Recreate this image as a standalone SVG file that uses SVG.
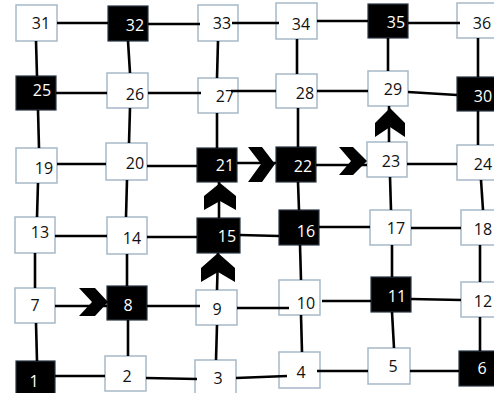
<svg xmlns="http://www.w3.org/2000/svg" width="494" height="393" viewBox="0 0 494 393">
<style>
.w{fill:#ffffff;stroke:#a7b9c8;stroke-width:1.5}
.b{fill:#000000;stroke:#2a3440;stroke-width:1.2}
text{font-family:"Open Sans","Liberation Sans",sans-serif;font-size:16px;text-anchor:middle;dominant-baseline:central}
.tw{fill:#111111}
.tb{fill:#ffffff}
.c line{stroke:#000000;stroke-width:2.6;stroke-linecap:butt}
.ch{fill:#000000}
</style>
<rect width="494" height="393" fill="#ffffff"/>
<g id="nodes">
<g id="n31"><rect class="w" x="16" y="5" width="41" height="36"/><text class="tw" x="41" y="23">31</text></g>
<g id="n32"><rect class="b" x="108" y="6" width="40" height="35"/><text class="tb" x="135" y="25">32</text></g>
<g id="n33"><rect class="w" x="198" y="5" width="40" height="36"/><text class="tw" x="222" y="23">33</text></g>
<g id="n34"><rect class="w" x="276" y="3" width="41" height="36"/><text class="tw" x="301" y="24">34</text></g>
<g id="n35"><rect class="b" x="368" y="4" width="40" height="34"/><text class="tb" x="396" y="22">35</text></g>
<g id="n36"><rect class="w" x="457" y="3" width="41" height="35"/><text class="tw" x="482" y="23">36</text></g>
<g id="n25"><rect class="b" x="16" y="76" width="40" height="34"/><text class="tb" x="42" y="90">25</text></g>
<g id="n26"><rect class="w" x="107" y="73" width="41" height="35"/><text class="tw" x="135" y="94">26</text></g>
<g id="n27"><rect class="w" x="198" y="78" width="40" height="35"/><text class="tw" x="225" y="96">27</text></g>
<g id="n28"><rect class="w" x="276" y="74" width="41" height="34"/><text class="tw" x="305" y="93">28</text></g>
<g id="n29"><rect class="w" x="368" y="71" width="40" height="35"/><text class="tw" x="393" y="89">29</text></g>
<g id="n30"><rect class="b" x="457" y="77" width="41" height="34"/><text class="tb" x="483" y="96">30</text></g>
<g id="n19"><rect class="w" x="16" y="148" width="41" height="35"/><text class="tw" x="44" y="168">19</text></g>
<g id="n20"><rect class="w" x="106" y="143" width="41" height="37"/><text class="tw" x="135" y="163">20</text></g>
<g id="n21"><rect class="b" x="197" y="148" width="40" height="34"/><text class="tb" x="225" y="165">21</text></g>
<g id="n22"><rect class="b" x="276" y="147" width="40" height="35"/><text class="tb" x="303" y="166">22</text></g>
<g id="n23"><rect class="w" x="367" y="142" width="40" height="35"/><text class="tw" x="391" y="161">23</text></g>
<g id="n24"><rect class="w" x="457" y="145" width="41" height="35"/><text class="tw" x="483" y="164">24</text></g>
<g id="n13"><rect class="w" x="15" y="217" width="40" height="36"/><text class="tw" x="40" y="232">13</text></g>
<g id="n14"><rect class="w" x="107" y="217" width="40" height="37"/><text class="tw" x="132" y="238">14</text></g>
<g id="n15"><rect class="b" x="197" y="218" width="43" height="35"/><text class="tb" x="227" y="236">15</text></g>
<g id="n16"><rect class="b" x="279" y="210" width="40" height="35"/><text class="tb" x="306" y="231">16</text></g>
<g id="n17"><rect class="w" x="370" y="210" width="41" height="35"/><text class="tw" x="396" y="228">17</text></g>
<g id="n18"><rect class="w" x="461" y="210" width="40" height="35"/><text class="tw" x="483" y="229">18</text></g>
<g id="n7"><rect class="w" x="15" y="288" width="40" height="35"/><text class="tw" x="35" y="305">7</text></g>
<g id="n8"><rect class="b" x="107" y="286" width="40" height="34"/><text class="tb" x="128" y="305">8</text></g>
<g id="n9"><rect class="w" x="196" y="290" width="41" height="35"/><text class="tw" x="217" y="309">9</text></g>
<g id="n10"><rect class="w" x="279" y="280" width="41" height="35"/><text class="tw" x="306" y="303">10</text></g>
<g id="n11"><rect class="b" x="371" y="277" width="40" height="35"/><text class="tb" x="397" y="296">11</text></g>
<g id="n12"><rect class="w" x="461" y="282" width="40" height="35"/><text class="tw" x="483" y="301">12</text></g>
<g id="n1"><rect class="b" x="16" y="361" width="39" height="36"/><text class="tb" x="34" y="381">1</text></g>
<g id="n2"><rect class="w" x="105" y="356" width="41" height="35"/><text class="tw" x="127" y="376">2</text></g>
<g id="n3"><rect class="w" x="195" y="360" width="41" height="36"/><text class="tw" x="218" y="378">3</text></g>
<g id="n4"><rect class="w" x="279" y="352" width="41" height="36"/><text class="tw" x="301" y="372">4</text></g>
<g id="n5"><rect class="w" x="368" y="348" width="42" height="36"/><text class="tw" x="393" y="366">5</text></g>
<g id="n6"><rect class="b" x="459" y="351" width="40" height="35"/><text class="tb" x="482" y="368">6</text></g>
</g>
<g id="connectors" class="c">
<line x1="57" y1="23" x2="108" y2="23"/>
<line x1="148" y1="24" x2="200" y2="24"/>
<line x1="232" y1="23" x2="279" y2="23"/>
<line x1="317" y1="21" x2="368" y2="21"/>
<line x1="408" y1="23" x2="460" y2="23"/>
<line x1="56" y1="93" x2="107" y2="93"/>
<line x1="148" y1="93" x2="201" y2="93"/>
<line x1="231" y1="91" x2="276" y2="91"/>
<line x1="317" y1="91" x2="368" y2="91"/>
<line x1="408" y1="92" x2="457" y2="95"/>
<line x1="57" y1="164" x2="106" y2="164"/>
<line x1="147" y1="166" x2="197" y2="166"/>
<line x1="237" y1="163" x2="276" y2="163"/>
<line x1="316" y1="165" x2="367" y2="165"/>
<line x1="407" y1="164" x2="457" y2="164"/>
<line x1="55" y1="236" x2="107" y2="236"/>
<line x1="147" y1="237" x2="197" y2="237"/>
<line x1="240" y1="235" x2="279" y2="236"/>
<line x1="319" y1="227" x2="370" y2="227"/>
<line x1="411" y1="228" x2="461" y2="228"/>
<line x1="55" y1="306" x2="107" y2="306"/>
<line x1="147" y1="306" x2="200" y2="306"/>
<line x1="237" y1="308" x2="289" y2="308"/>
<line x1="322" y1="301" x2="371" y2="301"/>
<line x1="411" y1="299" x2="461" y2="300"/>
<line x1="55" y1="376" x2="105" y2="376"/>
<line x1="146" y1="378" x2="197" y2="379"/>
<line x1="236" y1="378" x2="287" y2="376"/>
<line x1="317" y1="371" x2="368" y2="371"/>
<line x1="410" y1="371" x2="459" y2="371"/>
<line x1="36" y1="41" x2="37" y2="76"/>
<line x1="38" y1="110" x2="39" y2="148"/>
<line x1="38" y1="183" x2="37" y2="217"/>
<line x1="35" y1="253" x2="35" y2="288"/>
<line x1="36" y1="323" x2="37" y2="361"/>
<line x1="128" y1="41" x2="130" y2="73"/>
<line x1="130" y1="108" x2="129" y2="143"/>
<line x1="127" y1="180" x2="126" y2="217"/>
<line x1="127" y1="254" x2="127" y2="286"/>
<line x1="128" y1="320" x2="128" y2="356"/>
<line x1="218" y1="41" x2="217" y2="78"/>
<line x1="217" y1="113" x2="217" y2="148"/>
<line x1="219" y1="182" x2="219" y2="218"/>
<line x1="218" y1="253" x2="217" y2="290"/>
<line x1="217" y1="325" x2="216" y2="360"/>
<line x1="297" y1="39" x2="297" y2="74"/>
<line x1="298" y1="108" x2="298" y2="147"/>
<line x1="298" y1="182" x2="299" y2="210"/>
<line x1="300" y1="245" x2="301" y2="280"/>
<line x1="301" y1="315" x2="302" y2="352"/>
<line x1="388" y1="38" x2="388" y2="71"/>
<line x1="389" y1="106" x2="389" y2="142"/>
<line x1="390" y1="177" x2="391" y2="210"/>
<line x1="392" y1="245" x2="392" y2="277"/>
<line x1="392" y1="312" x2="394" y2="348"/>
<line x1="478" y1="38" x2="478" y2="77"/>
<line x1="478" y1="111" x2="478" y2="145"/>
<line x1="481" y1="180" x2="483" y2="210"/>
<line x1="480" y1="245" x2="480" y2="282"/>
<line x1="480" y1="317" x2="480" y2="351"/>
</g>
<g id="chevrons" class="ch">
<polygon points="79,288 95,288 108,302 95,316 79,316 92,302"/>
<polygon points="248,147 262,147 275,164 262,182 248,182 261,164"/>
<polygon points="339,147 353,147 367,161 353,175 339,175 351,161"/>
<polygon points="375,137 375,123 390,108 405,123 405,137 390,127"/>
<polygon points="204,210 204,196 220,183 236,196 236,210 220,201"/>
<polygon points="201,282 201,268 218,253 235,268 235,282 218,272"/>
</g>
</svg>
